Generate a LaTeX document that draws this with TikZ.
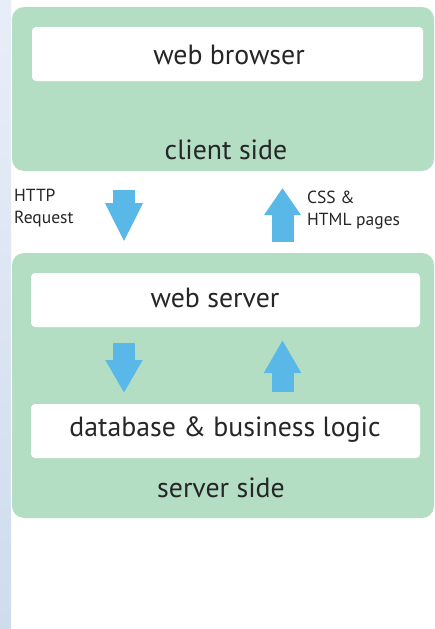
\documentclass[tikz,border=0pt]{standalone}
\usepackage{fontspec}
\setmainfont{PT Sans}
\usetikzlibrary{arrows.meta}
\definecolor{grn}{RGB}{180,222,196}
\definecolor{arr}{RGB}{90,184,232}
\definecolor{txt}{RGB}{38,38,38}
\begin{document}
\begin{tikzpicture}[x=1pt,y=-1pt,
  panel/.style={fill=grn, rounded corners=12pt, inner sep=0pt},
  wbox/.style={fill=white, rounded corners=4pt, inner sep=0pt},
  bigtxt/.style={text=txt, font=\fontsize{27.8}{32}\selectfont, inner sep=0pt},
  smalltxt/.style={text=txt, font=\fontsize{17.5}{22}\selectfont, align=left, anchor=base west, inner sep=0pt},
  blockarrow/.style={draw=arr, line width=22pt}
]
\useasboundingbox (0,0) rectangle (435,629);
\fill[white] (0,0) rectangle (435,629);
\shade[top color={rgb,255:red,232;green,238;blue,248}, bottom color={rgb,255:red,206;green,220;blue,236}] (0,0) rectangle (11,629);

% panels
\node[panel, minimum width=422pt, minimum height=164pt] (client) at (223,89) {};
\node[panel, minimum width=422pt, minimum height=265pt] (server) at (223,385.5) {};

% white boxes
\node[wbox, minimum width=391pt, minimum height=54pt] (browser) at (227.5,54) {};
\node[wbox, minimum width=389pt, minimum height=54pt] (websrv) at (225.5,300) {};
\node[wbox, minimum width=389pt, minimum height=54pt] (db) at (225.5,431) {};

% texts
\node[bigtxt] (tbrowser) at (229,55) {web browser};
\node[bigtxt] (tclient) at (226,150) {client side};
\node[bigtxt] (tsrv) at (215,298) {web server};
\node[bigtxt] (tdb) at (225,430) {database \& business logic};
\node[bigtxt] (tserver) at (221,488) {server side};

\node[smalltxt] (http) at (14,223) {HTTP\\Request};
\node[smalltxt] (css) at (307,225) {CSS \&\\HTML pages};

% arrows
\coordinate (d1s) at (124,190);
\coordinate (d1e) at (124,242);
\coordinate (u1s) at (282.5,242);
\coordinate (u1e) at (282.5,188);
\coordinate (d2s) at (124,343);
\coordinate (d2e) at (124,393);
\coordinate (u2s) at (282.5,392);
\coordinate (u2e) at (282.5,340);
\draw[blockarrow, -{Triangle[width=35pt,length=39pt]}] (d1s) -- (d1e);
\draw[blockarrow, -{Triangle[width=35pt,length=27pt]}] (u1s) -- (u1e);
\draw[blockarrow, -{Triangle[width=35pt,length=33pt]}] (d2s) -- (d2e);
\draw[blockarrow, -{Triangle[width=35pt,length=33pt]}] (u2s) -- (u2e);
\end{tikzpicture}
\end{document}
